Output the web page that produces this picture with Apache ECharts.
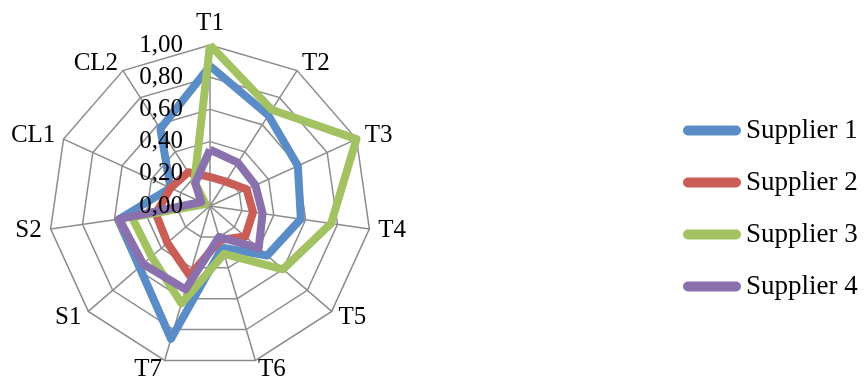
<!DOCTYPE html>
<html>
<head>
<meta charset="utf-8">
<style>
  html, body { margin: 0; padding: 0; background: #ffffff; }
  #chart { width: 864px; height: 383px; }
</style>
<script src="https://cdn.jsdelivr.net/npm/echarts@6/dist/echarts.min.js"></script>
</head>
<body>
<div id="chart"></div>
<script>
// Criteria, listed clockwise from the top
const categories = ['T1', 'T2', 'T3', 'T4', 'T5', 'T6', 'T7', 'S1', 'S2', 'CL1', 'CL2'];

const seriesNames = ['Supplier 1', 'Supplier 2', 'Supplier 3', 'Supplier 4'];
const supplier1 = [0.87, 0.67, 0.60, 0.57, 0.47, 0.27, 0.86, 0.58, 0.57, 0.27, 0.57];
const supplier2 = [0.18, 0.18, 0.25, 0.27, 0.29, 0.22, 0.45, 0.35, 0.34, 0.27, 0.25];
const supplier3 = [1.00, 0.71, 1.00, 0.76, 0.60, 0.31, 0.63, 0.48, 0.49, 0.03, 0.18];
const supplier4 = [0.35, 0.32, 0.31, 0.33, 0.40, 0.20, 0.54, 0.55, 0.57, 0.06, 0.17];

const tickLabels = ['0,00', '0,20', '0,40', '0,60', '0,80', '1,00'];
const colors = ['#5A8DC8', '#CB5D57', '#A3C262', '#8A70AD'];

// ECharts lays radar indicators out counter-clockwise; flip so they run clockwise
const clockwise = arr => [arr[0]].concat(arr.slice(1).reverse());

const serifFont = '"Liberation Serif", "Times New Roman", serif';
const gridGray = '#8c8c8c';
const center = [210, 206];
const radius = 161;

const values = [supplier1, supplier2, supplier3, supplier4];

const chart = echarts.init(document.getElementById('chart'), null, { renderer: 'canvas' });

chart.setOption({
  animation: false,
  color: colors,
  legend: {
    orient: 'vertical',
    left: 683,
    top: 117,
    padding: 0,
    itemWidth: 58,
    itemHeight: 10,
    itemGap: 25,
    icon: 'path://M5,0L53,0A5,5,0,0,1,53,10L5,10A5,5,0,0,1,5,0Z',
    data: seriesNames,
    textStyle: { fontFamily: serifFont, fontSize: 27, color: '#000' }
  },
  radar: [
    {
      // grid, spokes and criterion names
      center: center,
      radius: radius,
      shape: 'polygon',
      splitNumber: 5,
      indicator: clockwise(categories).map(name => ({ name: name, min: 0, max: 1 })),
      axisName: { color: '#000', fontFamily: serifFont, fontSize: 25 },
      nameGap: 9,
      axisLine: { lineStyle: { color: gridGray, width: 1.5 } },
      splitLine: { lineStyle: { color: gridGray, width: 1.5 } },
      splitArea: { show: false },
      axisTick: { show: false },
      axisLabel: { show: false },
      z: 0
    },
    {
      // scale labels along the first axis, drawn above the lines
      center: center,
      radius: radius,
      shape: 'polygon',
      splitNumber: 5,
      indicator: clockwise(categories).map((name, i) => ({
        name: '',
        min: 0,
        max: 1,
        axisLabel: { show: i === 0 }
      })),
      axisName: { show: false },
      axisLine: { show: false },
      splitLine: { show: false },
      splitArea: { show: false },
      axisTick: { show: false },
      axisLabel: {
        show: false,
        margin: 27,
        color: '#000',
        fontFamily: serifFont,
        fontSize: 25,
        padding: [6, 0, 0, 0],
        formatter: v => tickLabels[Math.round(v / 0.2)]
      },
      z: 5
    }
  ],
  series: [
    {
      type: 'radar',
      radarIndex: 0,
      symbol: 'none',
      data: values.map((vals, i) => ({
        name: seriesNames[i],
        value: clockwise(vals),
        itemStyle: { color: colors[i] },
        lineStyle: { color: colors[i], width: 8 }
      }))
    }
  ]
});
</script>
</body>
</html>
